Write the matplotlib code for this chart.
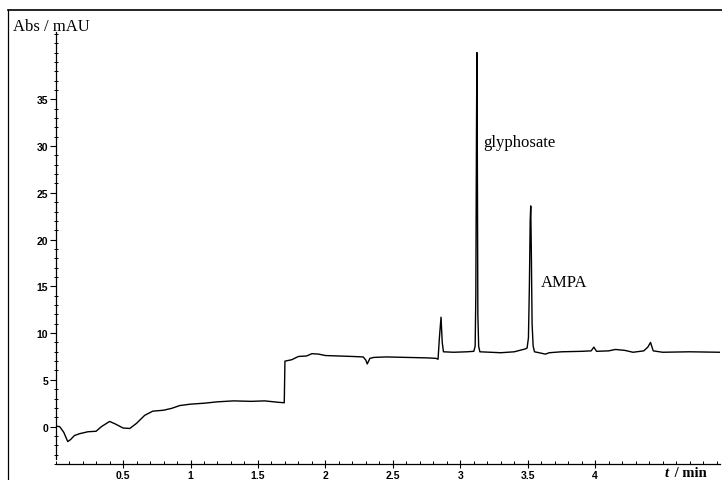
import matplotlib
matplotlib.use("Agg")
import matplotlib.pyplot as plt
from matplotlib.lines import Line2D
from matplotlib.ticker import MultipleLocator, FixedLocator

# chromatogram trace (retention time in min, absorbance in mAU)
time_min = [0.00, 0.03, 0.06, 0.09, 0.11, 0.14, 0.18, 0.24, 0.30, 0.34,
            0.40, 0.44, 0.50, 0.55, 0.60, 0.66, 0.72, 0.80, 0.86, 0.92,
            1.00, 1.10, 1.20, 1.32, 1.45, 1.55, 1.65, 1.695, 1.70, 1.75,
            1.80, 1.86, 1.90, 1.95, 2.00, 2.10, 2.20, 2.28, 2.30, 2.31,
            2.33, 2.36, 2.45, 2.60, 2.75, 2.82, 2.835, 2.845, 2.857, 2.866,
            2.875, 2.95, 3.05, 3.100, 3.110, 3.115, 3.120, 3.123, 3.126, 3.130,
            3.136, 3.145, 3.30, 3.40, 3.48, 3.495, 3.505, 3.512, 3.518, 3.522,
            3.527, 3.532, 3.540, 3.550, 3.60, 3.63, 3.66, 3.75, 3.90, 3.97,
            3.99, 4.01, 4.10, 4.15, 4.22, 4.28, 4.36, 4.39, 4.41, 4.43,
            4.50, 4.70, 4.925]
abs_mau = [0.05, 0.0, -0.6, -1.6, -1.4, -0.95, -0.75, -0.55, -0.5, 0.0,
           0.55, 0.3, -0.15, -0.2, 0.35, 1.2, 1.65, 1.75, 1.95, 2.25,
           2.4, 2.5, 2.65, 2.75, 2.7, 2.75, 2.6, 2.55, 7.0, 7.15,
           7.5, 7.55, 7.8, 7.75, 7.6, 7.55, 7.5, 7.45, 7.1, 6.7,
           7.3, 7.4, 7.45, 7.4, 7.35, 7.3, 7.2, 9.5, 11.7, 9.0,
           8.0, 7.95, 8.0, 8.05, 8.6, 14.0, 32.0, 40.0, 30.0, 12.0,
           8.6, 8.0, 7.9, 8.0, 8.3, 8.4, 9.5, 15.0, 22.0, 23.6,
           18.0, 11.0, 8.6, 8.0, 7.85, 7.75, 7.9, 8.0, 8.05, 8.1,
           8.5, 8.05, 8.1, 8.25, 8.15, 7.95, 8.1, 8.5, 9.0, 8.1,
           7.95, 8.0, 7.95]

peak_names = ["glyphosate", "AMPA"]
peak_label_t = [3.168, 3.598]
peak_label_abs = [30.0, 15.0]

x_major = [0.5, 1, 1.5, 2, 2.5, 3, 3.5, 4]
x_labels = ["0.5", "1", "1.5", "2", "2.5", "3", "3.5", "4"]
y_major = [0, 5, 10, 15, 20, 25, 30, 35]

W, H = 722, 481
fig = plt.figure(figsize=(W / 100, H / 100), dpi=100)
ax = fig.add_axes([55.6 / W, 16 / H, (720 - 55.6) / W, (465 - 33) / H])

ax.plot(time_min, abs_mau, color="black", lw=1.0, solid_joinstyle="round")

ax.set_xlim(0, 4.925)
ax.set_ylim(-4.0, 42.2)

for side in ["top", "right"]:
    ax.spines[side].set_visible(False)
ax.spines["left"].set_bounds(-3.5, 42.2)
for side in ["left", "bottom"]:
    ax.spines[side].set_linewidth(0.9)

ax.xaxis.set_major_locator(FixedLocator(x_major))
ax.set_xticklabels(x_labels)
ax.xaxis.set_minor_locator(MultipleLocator(0.1))
ax.yaxis.set_major_locator(FixedLocator(y_major))
ax.yaxis.set_minor_locator(MultipleLocator(1))

for lab in ax.get_xticklabels() + ax.get_yticklabels():
    lab.set_fontfamily("Liberation Sans")
    lab.set_fontsize(7.5)
    lab.set_fontweight("bold")

ax.tick_params(axis="x", which="major", direction="inout", length=6, width=0.8, pad=1)
ax.tick_params(axis="x", which="minor", direction="in", length=2.5, width=0.7)
ax.tick_params(axis="y", which="major", direction="out", length=4, width=0.8, pad=1.5)
ax.tick_params(axis="y", which="minor", direction="inout", length=2.5, width=0.7)

for name, tx, ty in zip(peak_names, peak_label_t, peak_label_abs):
    ax.text(tx, ty, name, family="Liberation Serif", fontsize=12,
            ha="left", va="baseline")

# axis titles
fig.text(13 / W, 1 - 30.7 / H, "Abs / mAU", family="Liberation Serif",
         fontsize=12, ha="left", va="baseline")
fig.text(665 / W, 1 - 477 / H, "t", family="Liberation Serif", fontsize=10.5,
         style="italic", weight="bold", ha="left", va="baseline")
fig.text(671 / W, 1 - 477 / H, " / min", family="Liberation Serif", fontsize=10.5,
         weight="bold", ha="left", va="baseline")

# frame lines along the top and left edge
fig.add_artist(Line2D([8 / W, 8 / W], [1 - 10.7 / H, 0], color="black", lw=0.9,
                      transform=fig.transFigure))
fig.add_artist(Line2D([8 / W, 1], [1 - 10.7 / H, 1 - 10.7 / H], color="black",
                      lw=1.2, transform=fig.transFigure))

fig.savefig("out.png", dpi=100)
